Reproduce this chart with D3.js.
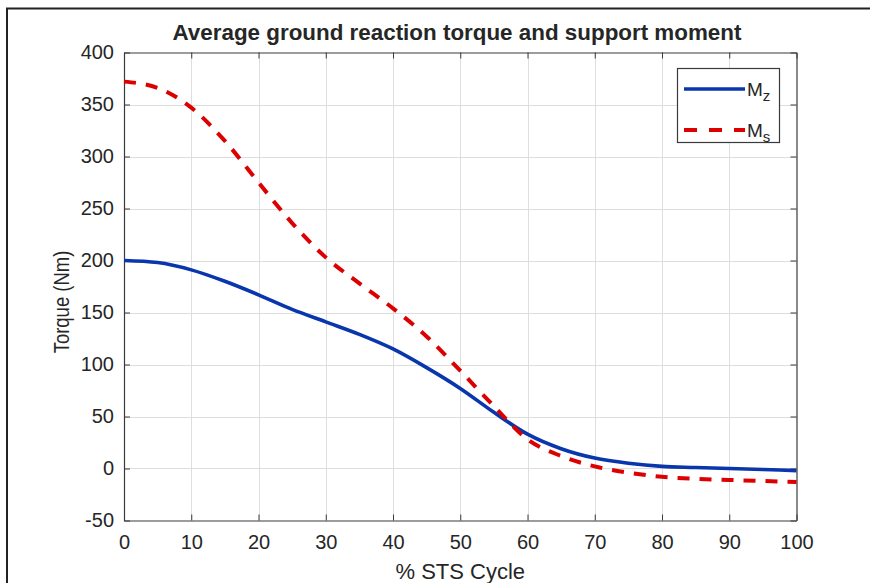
<!DOCTYPE html>
<html>
<head>
<meta charset="utf-8">
<script src="https://cdn.jsdelivr.net/npm/d3@7"></script>
<style>
  html, body { margin: 0; padding: 0; background: #fff; }
  svg { display: block; }
  text { font-family: "Liberation Sans", Arial, sans-serif; fill: #262626; }
</style>
</head>
<body>
<svg id="chart" width="870" height="583"></svg>
<script>
// ---- data ----
const cycle = [0, 5, 10, 15, 20, 25, 30, 35, 40, 45, 50, 55, 60, 65, 70, 75, 80, 85, 90, 95, 100];
const mz    = [200, 198, 191, 180, 167, 153, 141, 129, 115, 97, 77, 54, 33, 19, 10, 5, 2, 1, 0, -1, -2];
const ms    = [372, 366, 347, 315, 275, 236, 203, 178, 154, 127, 94, 60, 28, 12, 2, -4, -8, -10, -11, -12, -13];
const xTicks = [0, 10, 20, 30, 40, 50, 60, 70, 80, 90, 100];
const yTicks = [-50, 0, 50, 100, 150, 200, 250, 300, 350, 400];
const seriesNames = ["M", "M"];
const seriesSubs = ["z", "s"];
const titleText = "Average ground reaction torque and support moment";
const xLabel = "% STS Cycle";
const yLabel = "Torque (Nm)";

// ---- layout ----
const svg = d3.select("#chart");
const L = 124, R = 796.5, T = 52.5, B = 520.5;
const x = d3.scaleLinear().domain([0, 100]).range([L, R]);
const y = d3.scaleLinear().domain([-50, 400]).range([B, T]);
const axisColor = "#3a3a3a";
const fmt = d => String(d);

// figure border (left and top)
svg.append("line").attr("x1", 7).attr("x2", 7).attr("y1", 8).attr("y2", 583)
  .attr("stroke", "#222").attr("stroke-width", 2);
svg.append("line").attr("x1", 6).attr("x2", 870).attr("y1", 8.5).attr("y2", 8.5)
  .attr("stroke", "#222").attr("stroke-width", 2);

// grid
const grid = svg.append("g");
grid.selectAll(".gx").data(xTicks.slice(1, -1)).join("line")
  .attr("x1", d => Math.round(x(d)) + 0.5).attr("x2", d => Math.round(x(d)) + 0.5)
  .attr("y1", T).attr("y2", B).attr("stroke", "#dedede").attr("stroke-width", 1);
grid.selectAll(".gy").data(yTicks.slice(1, -1)).join("line")
  .attr("y1", d => Math.round(y(d)) + 0.5).attr("y2", d => Math.round(y(d)) + 0.5)
  .attr("x1", L).attr("x2", R).attr("stroke", "#dedede").attr("stroke-width", 1);

// axes (bottom, left with labels; top, right with ticks only)
const tickLen = 6;
const axB = svg.append("g").attr("transform", `translate(0,${B})`)
  .call(d3.axisBottom(x).tickValues(xTicks).tickFormat(fmt).tickSizeInner(-tickLen).tickSizeOuter(0).tickPadding(16));
const axL = svg.append("g").attr("transform", `translate(${L},0)`)
  .call(d3.axisLeft(y).tickValues(yTicks).tickFormat(fmt).tickSizeInner(-tickLen).tickSizeOuter(0).tickPadding(16));
const axT = svg.append("g").attr("transform", `translate(0,${T})`)
  .call(d3.axisTop(x).tickValues(xTicks).tickSizeInner(-tickLen).tickSizeOuter(0).tickFormat(""));
const axR = svg.append("g").attr("transform", `translate(${R},0)`)
  .call(d3.axisRight(y).tickValues(yTicks).tickSizeInner(-tickLen).tickSizeOuter(0).tickFormat(""));
[axB, axL, axT, axR].forEach(g => {
  g.select(".domain").attr("stroke", axisColor).attr("stroke-width", 1.2);
  g.selectAll(".tick line").attr("stroke", axisColor).attr("stroke-width", 1);
  g.selectAll(".tick text").attr("font-size", 20).attr("fill", "#262626")
    .attr("font-family", '"Liberation Sans", Arial, sans-serif');
});
axL.selectAll(".tick text").attr("dx", 0).attr("x", -10);
axB.selectAll(".tick text").attr("y", 14);

// lines
const lineGen = d3.line().x((d, i) => x(cycle[i])).y(d => y(d)).curve(d3.curveMonotoneX);
svg.append("path").datum(mz).attr("d", lineGen)
  .attr("fill", "none").attr("stroke", "#0a36ad").attr("stroke-width", 3.6);
svg.append("path").datum(ms).attr("d", lineGen)
  .attr("fill", "none").attr("stroke", "#dc0000").attr("stroke-width", 4)
  .attr("stroke-dasharray", "12,10");

// title & labels
svg.append("text").attr("x", 457).attr("y", 40).attr("text-anchor", "middle")
  .attr("font-size", 22.4).attr("font-weight", "bold").attr("fill", "#111").text(titleText);
svg.append("text").attr("x", (L + R) / 2).attr("y", 579).attr("text-anchor", "middle")
  .attr("font-size", 22).text(xLabel);
svg.append("text").attr("transform", `translate(69,302) rotate(-90) scale(0.86,1)`)
  .attr("text-anchor", "middle").attr("font-size", 21.5).text(yLabel);

// legend
const lg = svg.append("g");
lg.append("rect").attr("x", 677.5).attr("y", 68.5).attr("width", 102).attr("height", 74)
  .attr("fill", "#fff").attr("stroke", "#3a3a3a").attr("stroke-width", 1.2);
const legendY = [89, 130];
const legendStyles = [
  {color: "#0a36ad", dash: null, w: 3.6},
  {color: "#dc0000", dash: "13,12", w: 4}
];
legendY.forEach((ly, i) => {
  const ln = lg.append("line").attr("x1", 684).attr("x2", 745).attr("y1", ly).attr("y2", ly)
    .attr("stroke", legendStyles[i].color).attr("stroke-width", legendStyles[i].w);
  if (legendStyles[i].dash) ln.attr("stroke-dasharray", legendStyles[i].dash);
  const t = lg.append("text").attr("x", 747).attr("y", ly + 7).attr("font-size", 19);
  t.append("tspan").text(seriesNames[i]);
  t.append("tspan").attr("font-size", 15).attr("dy", 5).text(seriesSubs[i]);
});
</script>
</body>
</html>
